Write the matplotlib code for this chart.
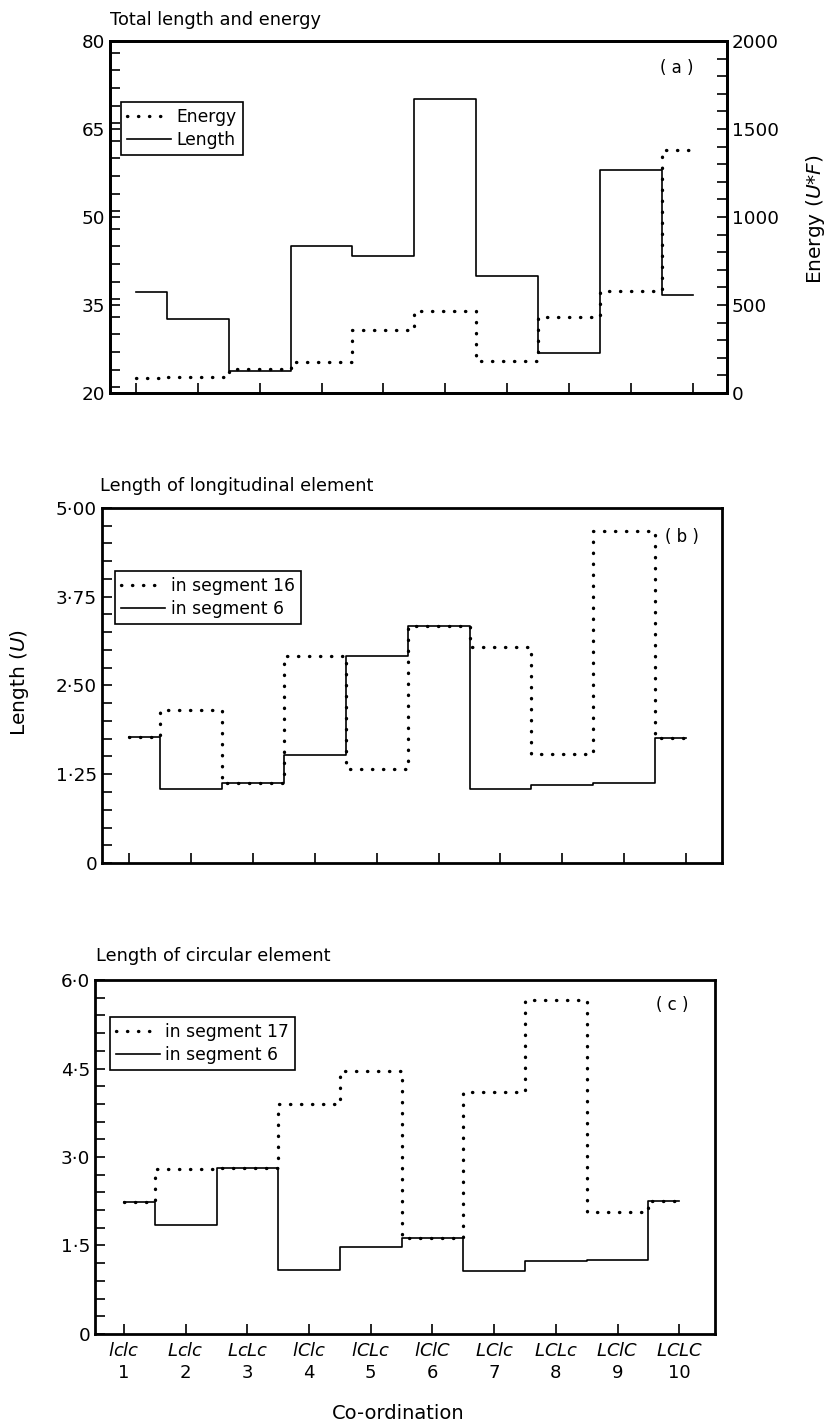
import numpy as np
import matplotlib.pyplot as plt
from matplotlib.ticker import FixedLocator, MultipleLocator

# co-ordination types along the x axis
names = ["lclc", "Lclc", "LcLc", "lClc", "lCLc", "lClC", "LClc", "LCLc", "LClC", "LCLC"]
x = np.arange(1, 11)

# (a) total length and energy
total_length = [37.3, 32.6, 23.7, 45.1, 43.3, 70.1, 40.0, 26.8, 58.0, 36.7]
energy = [83, 93, 135, 178, 358, 466, 182, 430, 581, 1381]

# (b) length of longitudinal element
long_seg16 = [1.78, 2.15, 1.13, 2.91, 1.33, 3.34, 3.04, 1.54, 4.68, 1.76]
long_seg6 = [1.78, 1.04, 1.13, 1.52, 2.91, 3.34, 1.04, 1.10, 1.12, 1.76]

# (c) length of circular element
circ_seg17 = [2.23, 2.79, 2.82, 3.90, 4.46, 1.62, 4.10, 5.67, 2.07, 2.25]
circ_seg6 = [2.23, 1.85, 2.82, 1.09, 1.48, 1.62, 1.06, 1.23, 1.26, 2.25]

plt.rcParams['font.family'] = 'DejaVu Sans'
plt.rcParams['mathtext.fontset'] = 'dejavusans'

dot = dict(color='black', lw=2.4, linestyle=(0, (0.1, 3.2)), dash_capstyle='round')
solid = dict(color='black', lw=1.2)
fs = 13.2


def style(ax, xlim):
    ax.set_xlim(*xlim)
    ax.xaxis.set_major_locator(FixedLocator(x))
    for s in ax.spines.values():
        s.set_linewidth(2.0)
    ax.tick_params(which='both', direction='in', length=7, width=1.2, labelsize=fs,
                   top=False, right=False)


def legend(ax, handles, labels, anchor):
    leg = ax.legend(handles, labels, loc='upper left', bbox_to_anchor=anchor,
                    fancybox=False, edgecolor='black', framealpha=1, fontsize=12.3,
                    handlelength=2.6, handletextpad=0.3, borderpad=0.35,
                    labelspacing=0.3, borderaxespad=0)
    leg.get_frame().set_linewidth(1.2)


fig = plt.figure(figsize=(8.26, 14.22), dpi=100)

# ---- panel (a)
ax_a = fig.add_axes([0.133, 0.7236, 0.747, 0.2476])
l_len, = ax_a.step(x, total_length, where='mid', **solid)
ax_a.set_ylim(20, 80)
ax_a.yaxis.set_major_locator(FixedLocator([20, 35, 50, 65, 80]))
ax_a.yaxis.set_minor_locator(MultipleLocator(3))
style(ax_a, (0.58, 10.55))
ax_a.set_xticklabels([])

ax_e = ax_a.twinx()
l_en, = ax_e.step(x, energy, where='mid', **dot)
ax_e.set_ylim(0, 2000)
ax_e.yaxis.set_major_locator(FixedLocator([0, 500, 1000, 1500, 2000]))
ax_e.yaxis.set_minor_locator(MultipleLocator(100))
ax_e.tick_params(which='both', direction='in', length=7, width=1.2, labelsize=fs)
for s in ax_e.spines.values():
    s.set_linewidth(2.0)
legend(ax_a, [l_en, l_len], ["Energy", "Length"], (0.018, 0.827))

# ---- panel (b)
ax_b = fig.add_axes([0.1235, 0.3931, 0.7506, 0.2497])
h16, = ax_b.step(x, long_seg16, where='mid', **dot)
h6, = ax_b.step(x, long_seg6, where='mid', **solid)
ax_b.set_ylim(0, 5)
ax_b.yaxis.set_major_locator(FixedLocator([0, 1.25, 2.5, 3.75, 5.0]))
ax_b.set_yticklabels(["0", "1·25", "2·50", "3·75", "5·00"])
ax_b.yaxis.set_minor_locator(MultipleLocator(0.25))
style(ax_b, (0.56, 10.58))
ax_b.set_xticklabels([])
legend(ax_b, [h16, h6], ["in segment 16", "in segment 6"], (0.021, 0.823))

# ---- panel (c)
ax_c = fig.add_axes([0.115, 0.0619, 0.7506, 0.2489])
h17, = ax_c.step(x, circ_seg17, where='mid', **dot)
h6c, = ax_c.step(x, circ_seg6, where='mid', **solid)
ax_c.set_ylim(0, 6)
ax_c.yaxis.set_major_locator(FixedLocator([0, 1.5, 3.0, 4.5, 6.0]))
ax_c.set_yticklabels(["0", "1·5", "3·0", "4·5", "6·0"])
ax_c.yaxis.set_minor_locator(MultipleLocator(0.3))
style(ax_c, (0.53, 10.58))
ax_c.set_xticklabels([f"$\\it{{{n}}}$\n{i}" for n, i in zip(names, x)], linespacing=1.25)
ax_c.tick_params(axis='x', pad=6, labelsize=13)
legend(ax_c, [h17, h6c], ["in segment 17", "in segment 6"], (0.024, 0.895))

# ---- texts
tfs = 12.8
fig.text(0.133, 0.986, "Total length and energy", fontsize=tfs, va='center')
fig.text(0.121, 0.658, "Length of longitudinal element", fontsize=tfs, va='center')
fig.text(0.116, 0.3277, "Length of circular element", fontsize=tfs, va='center')
fig.text(0.8196, 0.9522, "( a )", fontsize=12, ha='center', va='center')
fig.text(0.8257, 0.6224, "( b )", fontsize=12, ha='center', va='center')
fig.text(0.8136, 0.2932, "( c )", fontsize=12, ha='center', va='center')
fig.text(0.024, 0.5197, "Length ($U$)", fontsize=14.5, rotation=90, ha='center', va='center')
fig.text(0.987, 0.846, "Energy ($U$*$F$)", fontsize=14.5, rotation=90, ha='center', va='center')
fig.text(0.482, 0.0063, "Co-ordination", fontsize=14, ha='center', va='center')

fig.savefig("out.png", dpi=100)
